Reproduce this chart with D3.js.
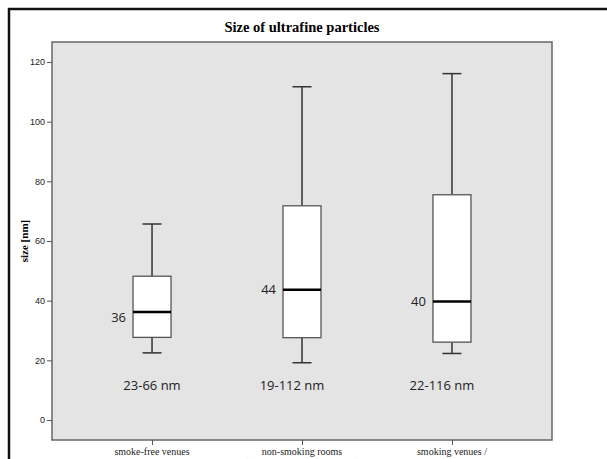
<!DOCTYPE html>
<html>
<head>
<meta charset="utf-8">
<script src="https://cdn.jsdelivr.net/npm/d3@7"></script>
<style>
  body { margin: 0; background: #fff; }
  svg { display: block; }
</style>
</head>
<body>
<div id="chart"></div>
<script>
// Data
const categories = ['smoke-free venues', 'non-smoking rooms', 'smoking venues /'];
const categoriesLine2 = ['', '(with direct smoking rooms)', 'smoking rooms'];
const mins = [22.5, 19.2, 22.3];
const q1s = [27.7, 27.6, 26.1];
const medians = [36.2, 43.7, 39.7];
const q3s = [48.2, 71.8, 75.5];
const maxs = [65.7, 111.7, 116.1];
const medianLabels = ['36', '44', '40'];
const rangeLabels = ['23-66 nm', '19-112 nm', '22-116 nm'];
const yTicks = [0, 20, 40, 60, 80, 100, 120];

// Dimensions
const WIDTH = 607;
const HEIGHT = 459;
const PLOT = { left: 52, right: 552, top: 42, bottom: 440 };
const BOX_W = 38;
const CAP_W = 19;
// small label nudges (layout only)
const rangeShift = [0, -10, -10];
const medianShift = [5, 0, 0];

const svg = d3.select('#chart')
  .append('svg')
  .attr('width', WIDTH)
  .attr('height', HEIGHT);

// Outer frame (runs off the right and bottom edges)
svg.append('rect')
  .attr('x', 9)
  .attr('y', 9)
  .attr('width', 800)
  .attr('height', 800)
  .attr('fill', 'none')
  .attr('stroke', '#111')
  .attr('stroke-width', 2.5);

// Scales
const x = d3.scalePoint()
  .domain(categories)
  .range([PLOT.left, PLOT.right])
  .padding(0.667);

const y = d3.scaleLinear()
  .domain([-6.7, 126.7])
  .range([PLOT.bottom, PLOT.top]);

// Plot background
svg.append('rect')
  .attr('x', PLOT.left)
  .attr('y', PLOT.top)
  .attr('width', PLOT.right - PLOT.left)
  .attr('height', PLOT.bottom - PLOT.top)
  .attr('fill', '#e4e4e4')
  .attr('stroke', '#666')
  .attr('stroke-width', 1.5);

// Title
svg.append('text')
  .attr('x', (PLOT.left + PLOT.right) / 2)
  .attr('y', 32)
  .attr('text-anchor', 'middle')
  .style('font-family', '"Liberation Serif", serif')
  .style('font-weight', 'bold')
  .style('font-size', '14.5px')
  .text('Size of ultrafine particles');

// Y axis
const yAxis = svg.append('g')
  .attr('transform', `translate(${PLOT.left},0)`)
  .call(d3.axisLeft(y).tickValues(yTicks).tickSize(5).tickPadding(2));
yAxis.select('.domain').remove();
yAxis.selectAll('line').attr('stroke', '#555');
yAxis.selectAll('text')
  .attr('fill', '#222')
  .style('font-family', '"Liberation Sans", Arial, sans-serif')
  .style('font-size', '9px');

svg.append('text')
  .attr('transform', `translate(28,${(PLOT.top + PLOT.bottom) / 2}) rotate(-90)`)
  .attr('text-anchor', 'middle')
  .style('font-family', '"Liberation Serif", serif')
  .style('font-weight', 'bold')
  .style('font-size', '11px')
  .text('size [nm]');

// X axis
const xAxis = svg.append('g')
  .attr('transform', `translate(0,${PLOT.bottom})`)
  .call(d3.axisBottom(x).tickSize(5).tickFormat(''));
xAxis.select('.domain').remove();
xAxis.selectAll('line').attr('stroke', '#555');

const catLabels = svg.append('g')
  .selectAll('text')
  .data(categories)
  .enter()
  .append('text')
  .attr('x', d => x(d))
  .attr('y', 455)
  .attr('text-anchor', 'middle')
  .style('font-family', '"Liberation Serif", serif')
  .style('font-size', '10px')
  .attr('fill', '#222');
catLabels.append('tspan').text(d => d);
catLabels.append('tspan')
  .attr('x', d => x(d))
  .attr('dy', 10.5)
  .text((d, i) => categoriesLine2[i]);

// Boxes
const boxes = svg.append('g')
  .selectAll('g')
  .data(categories)
  .enter()
  .append('g');

// whiskers
boxes.append('line')
  .attr('x1', d => x(d)).attr('x2', d => x(d))
  .attr('y1', (d, i) => y(maxs[i]))
  .attr('y2', (d, i) => y(q3s[i]))
  .attr('stroke', '#333').attr('stroke-width', 1.5);
boxes.append('line')
  .attr('x1', d => x(d)).attr('x2', d => x(d))
  .attr('y1', (d, i) => y(q1s[i]))
  .attr('y2', (d, i) => y(mins[i]))
  .attr('stroke', '#333').attr('stroke-width', 1.5);
boxes.append('line')
  .attr('x1', d => x(d) - CAP_W / 2).attr('x2', d => x(d) + CAP_W / 2)
  .attr('y1', (d, i) => y(maxs[i])).attr('y2', (d, i) => y(maxs[i]))
  .attr('stroke', '#333').attr('stroke-width', 1.5);
boxes.append('line')
  .attr('x1', d => x(d) - CAP_W / 2).attr('x2', d => x(d) + CAP_W / 2)
  .attr('y1', (d, i) => y(mins[i])).attr('y2', (d, i) => y(mins[i]))
  .attr('stroke', '#333').attr('stroke-width', 1.5);

// box
boxes.append('rect')
  .attr('x', d => x(d) - BOX_W / 2)
  .attr('width', BOX_W)
  .attr('y', (d, i) => y(q3s[i]))
  .attr('height', (d, i) => y(q1s[i]) - y(q3s[i]))
  .attr('fill', '#fff')
  .attr('stroke', '#555')
  .attr('stroke-width', 1.3);

// median
boxes.append('line')
  .attr('x1', d => x(d) - BOX_W / 2).attr('x2', d => x(d) + BOX_W / 2)
  .attr('y1', (d, i) => y(medians[i])).attr('y2', (d, i) => y(medians[i]))
  .attr('stroke', '#000').attr('stroke-width', 2.5);

// median labels
boxes.append('text')
  .attr('x', d => x(d) - BOX_W / 2 - 7)
  .attr('y', (d, i) => y(medians[i]) + medianShift[i])
  .attr('dy', '0.36em')
  .attr('text-anchor', 'end')
  .style('font-family', '"Open Sans", sans-serif')
  .style('font-size', '13px')
  .attr('fill', '#222')
  .text((d, i) => medianLabels[i]);

// range labels
boxes.append('text')
  .attr('x', (d, i) => x(d) + rangeShift[i])
  .attr('y', 385)
  .attr('dy', '0.36em')
  .attr('text-anchor', 'middle')
  .style('font-family', '"Open Sans", sans-serif')
  .style('font-size', '13px')
  .attr('fill', '#222')
  .text((d, i) => rangeLabels[i]);
</script>
</body>
</html>
